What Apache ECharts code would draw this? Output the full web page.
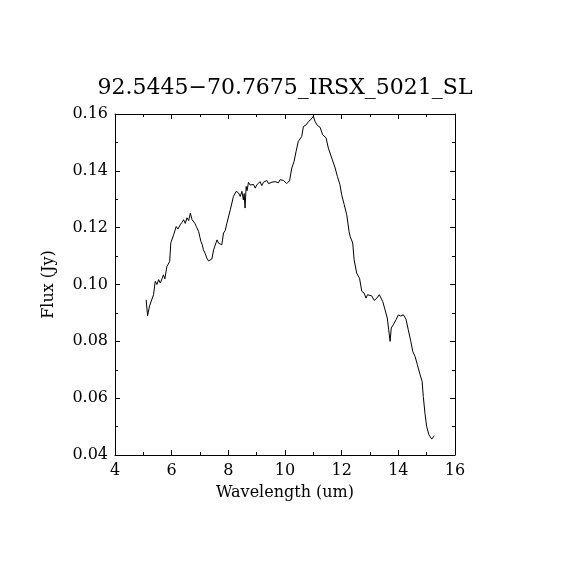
<!DOCTYPE html>
<html>
<head>
<meta charset="utf-8">
<script src="https://cdn.jsdelivr.net/npm/echarts@6/dist/echarts.min.js"></script>
<style>
  html, body { margin: 0; padding: 0; background: #fff; }
  #chart { width: 570px; height: 570px; }
</style>
</head>
<body>
<div id="chart"></div>
<script>
// spectrum
const wavelength = [
  5.10, 5.15, 5.22, 5.36, 5.42, 5.48, 5.54, 5.60, 5.66, 5.71, 5.76, 5.83, 5.93, 5.97,
  6.07, 6.16, 6.22, 6.30, 6.36, 6.42, 6.48, 6.54, 6.60, 6.66, 6.72, 6.77, 6.82, 6.87,
  6.95, 7.00, 7.03, 7.08, 7.12, 7.18, 7.24, 7.30, 7.36, 7.42, 7.48, 7.54, 7.60, 7.66,
  7.71, 7.77, 7.83, 7.89, 7.95, 8.07, 8.18, 8.28, 8.36, 8.42, 8.48, 8.53, 8.56, 8.59,
  8.63, 8.66, 8.71, 8.77, 8.83, 8.89, 8.95, 9.00, 9.06, 9.12, 9.18, 9.24, 9.30, 9.36,
  9.42, 9.48, 9.54, 9.59, 9.65, 9.71, 9.77, 9.83, 9.95, 10.06, 10.16, 10.24, 10.32,
  10.39, 10.47, 10.53, 10.59, 10.65, 10.75, 10.83, 10.91, 10.96, 11.00, 11.06, 11.14,
  11.24, 11.33, 11.45, 11.53, 11.65, 11.77, 11.85, 11.94, 12.00, 12.09, 12.18, 12.26,
  12.30, 12.39, 12.44, 12.53, 12.63, 12.71, 12.79, 12.86, 12.91, 13.06, 13.15, 13.24,
  13.33, 13.45, 13.53, 13.61, 13.66, 13.71, 13.75, 13.82, 13.92, 14.00, 14.08, 14.18,
  14.27, 14.35, 14.44, 14.51, 14.59, 14.67, 14.77, 14.84, 14.88, 14.94, 15.00, 15.08,
  15.18, 15.27
];
const flux = [
  0.0946, 0.0890, 0.0925, 0.0964, 0.1011, 0.1000, 0.1017, 0.1005, 0.1011, 0.1034, 0.1020, 0.1063, 0.1081, 0.1147,
  0.1175, 0.1204, 0.1195, 0.1210, 0.1218, 0.1228, 0.1215, 0.1235, 0.1225, 0.1251, 0.1228, 0.1235, 0.1215, 0.1204,
  0.1187, 0.1165, 0.1152, 0.1140, 0.1122, 0.1110, 0.1093, 0.1083, 0.1076, 0.1090, 0.1122, 0.1122, 0.1157, 0.1145,
  0.1150, 0.1140, 0.1181, 0.1190, 0.1216, 0.1263, 0.1310, 0.1328, 0.1322, 0.1310, 0.1328, 0.1298, 0.1320, 0.1269,
  0.1345, 0.1330, 0.1359, 0.1350, 0.1345, 0.1352, 0.1339, 0.1350, 0.1357, 0.1362, 0.1348, 0.1360, 0.1355, 0.1366,
  0.1355, 0.1351, 0.1360, 0.1357, 0.1362, 0.1363, 0.1358, 0.1369, 0.1366, 0.1355, 0.1365, 0.1410, 0.1433,
  0.1468, 0.1504, 0.1512, 0.1521, 0.1556, 0.1562, 0.1574, 0.1580, 0.1575, 0.1592, 0.1574, 0.1560,
  0.1553, 0.1527, 0.1516, 0.1480, 0.1445, 0.1410, 0.1380, 0.1351, 0.1316, 0.1281, 0.1245, 0.1187,
  0.1169, 0.1146, 0.1087, 0.1040, 0.1022, 0.0976, 0.0970, 0.0952, 0.0964, 0.0960, 0.0944, 0.0952,
  0.0964, 0.0940, 0.0911, 0.0882, 0.0841, 0.0800, 0.0847, 0.0858, 0.0876, 0.0893, 0.0889, 0.0893,
  0.0878, 0.0841, 0.0800, 0.0764, 0.0747, 0.0718, 0.0682, 0.0659, 0.0606, 0.0547, 0.0500, 0.0471,
  0.0456, 0.0468
];

const chartTitle = '92.5445\u221270.7675_IRSX_5021_SL';
const fontFam = '"DejaVu Serif", serif';

const chart = echarts.init(document.getElementById('chart'));

const black = '#000';
function xAx(pos, labels) {
  return {
    type: 'value', position: pos, min: 4, max: 16, interval: 2,
    name: labels ? 'Wavelength (um)' : '', nameLocation: 'middle', nameGap: 30,
    nameTextStyle: { color: black, fontFamily: fontFam, fontSize: 16 },
    axisLine: { show: true, onZero: false, lineStyle: { color: black, width: 1 } },
    axisTick: { show: true, inside: true, length: 5, lineStyle: { color: black } },
    minorTick: { show: true, splitNumber: 2, length: 3, lineStyle: { color: black } },
    axisLabel: { show: labels, color: black, fontFamily: fontFam, fontSize: 16, margin: 8 },
    splitLine: { show: false }
  };
}
function yAx(pos, labels) {
  return {
    type: 'value', position: pos, min: 0.04, max: 0.16, interval: 0.02,
    name: labels ? 'Flux (Jy)' : '', nameLocation: 'middle', nameGap: 58,
    nameTextStyle: { color: black, fontFamily: fontFam, fontSize: 16 },
    axisLine: { show: true, onZero: false, lineStyle: { color: black, width: 1 } },
    axisTick: { show: true, inside: true, length: 5, lineStyle: { color: black } },
    minorTick: { show: true, splitNumber: 2, length: 3, lineStyle: { color: black } },
    axisLabel: {
      show: labels, color: black, fontFamily: fontFam, fontSize: 16, margin: 7,
      formatter: v => v.toFixed(2)
    },
    splitLine: { show: false }
  };
}

chart.setOption({
  backgroundColor: '#fff',
  animation: false,
  title: {
    text: chartTitle, left: 'center', top: 72,
    textStyle: { color: black, fontFamily: fontFam, fontSize: 22, fontWeight: 'normal' }
  },
  grid: { left: 115, right: 115, top: 114, bottom: 115 },
  xAxis: [xAx('bottom', true), xAx('top', false)],
  yAxis: [yAx('left', true), yAx('right', false)],
  series: [{
    type: 'line',
    xAxisIndex: 0, yAxisIndex: 0,
    data: wavelength.map((w, i) => [w, flux[i]]),
    showSymbol: false,
    lineStyle: { color: black, width: 1 }
  }]
});
</script>
</body>
</html>
